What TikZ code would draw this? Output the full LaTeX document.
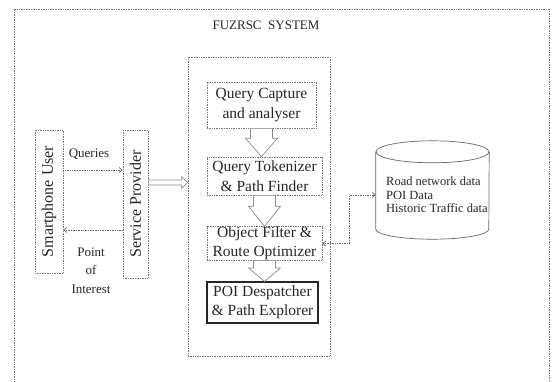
\documentclass[tikz,border=0pt]{standalone}
\usepackage{fontspec}
\setmainfont{Liberation Serif}
\usetikzlibrary{calc,arrows.meta}
\tikzset{
  frameline/.style={draw=black!55, densely dotted, line width=0.7pt},
  procbox/.style={frameline, inner sep=0pt, align=center, text=black!85, font=\fontsize{15.5}{19.5}\selectfont},
  finalbox/.style={draw=black!85, line width=1.1pt, inner sep=0pt, align=center, text=black!85, font=\fontsize{15.5}{19.5}\selectfont},
  sidebox/.style={frameline, inner sep=0pt, text=black!85, font=\fontsize{16}{19}\selectfont},
  lbl/.style={text=black!85, inner sep=0pt, align=center, font=\fontsize{13}{18.5}\selectfont},
  link/.style={draw=black!60, densely dotted, line width=0.7pt, arrows={-Straight Barb[length=3pt,width=5pt]}},
  blockarrow/.style={draw=black!45, fill=white, line width=0.7pt, line join=miter},
}
\newcommand{\vblockarrow}[2]{%
  \draw[blockarrow] let \p1=(#1), \p2=(#2), \n1={\y1-0.35*(\y1-\y2)} in
    (\x1-11pt,\y1) -- (\x1+11pt,\y1) -- (\x1+11pt,\n1) -- (\x1+16pt,\n1) -- (\x1,\y2)
    -- (\x1-16pt,\n1) -- (\x1-11pt,\n1) -- cycle;}
\newcommand{\hblockarrow}[2]{%
  \draw[blockarrow] let \p1=(#1), \p2=(#2), \n1={\x2-6} in
    (\x1,\y1+2.5pt) -- (\n1,\y1+2.5pt) -- (\n1,\y1+6pt) -- (\x2,\y1) -- (\n1,\y1-6pt)
    -- (\n1,\y1-2.5pt) -- (\x1,\y1-2.5pt) -- cycle;}
\begin{document}
\begin{tikzpicture}[x=1pt,y=1pt]
\useasboundingbox (0,0) rectangle (552,-381);
% outer frame (bottom edge lies outside the picture)
\draw[frameline] (14,-390) -- (14,-9) -- (549,-9) -- (549,-390);
\node[lbl, font=\fontsize{13}{15}\selectfont] (title) at (266,-25) {FUZRSC\ \ SYSTEM};
% system box
\node[frameline, minimum width=142, minimum height=299, inner sep=0pt] (sys) at (259,-206.5) {};
\node[procbox, minimum width=109, minimum height=46] (qc) at (261.5,-105) {Query Capture\\and analyser};
\node[procbox, minimum width=115, minimum height=38] (qt) at (264.5,-176) {Query Tokenizer\\\& Path Finder};
\node[procbox, minimum width=115, minimum height=33] (of) at (264.5,-243.5) {Object Filter \&\\Route Optimizer};
\node[finalbox, minimum width=111, minimum height=41] (poi) at (262.5,-302.5) {POI Despatcher\\\& Path Explorer};
\vblockarrow{qc.south}{qt.north}
\vblockarrow{qt.south}{of.north}
\vblockarrow{of.south}{poi.north}
% left side
\node[sidebox, minimum width=143, minimum height=28, rotate=90] (su) at (49,-201.5) {Smartphone User};
\node[sidebox, minimum width=148, minimum height=25, rotate=90] (sp) at (135.5,-204) {Service Provider};
\coordinate (qy) at (0,-170);
\coordinate (py) at (0,-230);
\coordinate (dy) at (0,-182.5);
\draw[link] (su.south |- qy) -- (sp.north |- qy);
\draw[link] (sp.north |- py) -- (su.south |- py);
\node[lbl] (queries) at (89,-154) {Queries};
\node[lbl] (poilbl) at (91,-270.5) {Point\\of\\Interest};
\hblockarrow{sp.south |- dy}{sys.west |- dy}
% database
\node[minimum width=113, minimum height=77, inner sep=0pt] (db) at (432.5,-190.5) {};
\draw[frameline, solid, draw=black!60] (db.north west) -- (db.south west)
  arc[start angle=180, end angle=360, x radius=56.5pt, y radius=10pt] -- (db.north east);
\draw[frameline, solid, draw=black!60] (db.north) ellipse[x radius=56.5pt, y radius=11pt];
\node[lbl, anchor=west, align=left, font=\fontsize{12.5}{13.5}\selectfont] (dbtext) at (386,-195)
  {Road network data\\POI Data\\Historic Traffic data};
\draw[link, arrows={Straight Barb[length=3pt,width=5pt]-Straight Barb[length=3pt,width=5pt]}]
  (of.east) -- ++(27,0) |- ($(db.west)+(0,-4.5)$);
\end{tikzpicture}
\end{document}
